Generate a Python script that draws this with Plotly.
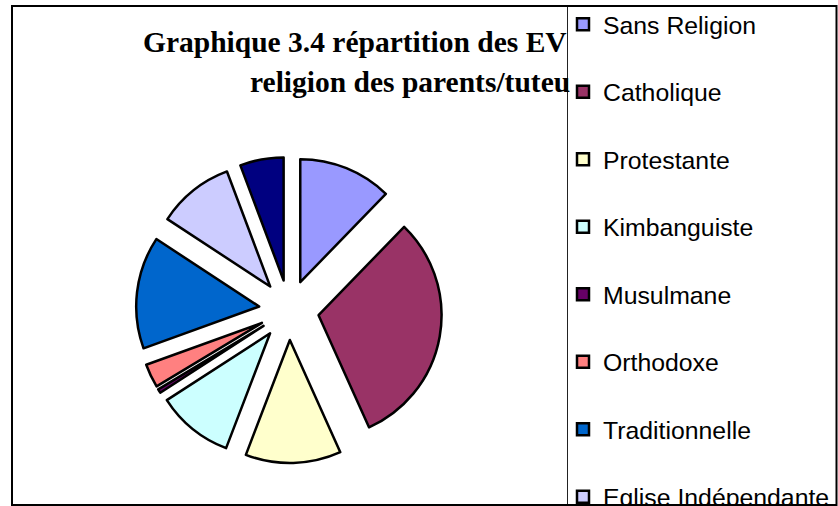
import plotly.graph_objects as go

# Data (% of total)
religions = ["Sans Religion", "Catholique", "Protestante", "Kimbanguiste", "Musulmane",
             "Orthodoxe", "Traditionnelle", "Eglise Indépendante", "Autres"]
shares = [12.2, 30.9, 12.5, 10.0, 0.5, 3.1, 14.7, 10.0, 5.7]
colors = ["#9999FF", "#993366", "#FFFFCC", "#CCFFFF", "#660066",
          "#FF8080", "#0066CC", "#CCCCFF", "#000080"]

W, H = 838, 506

# legend entries get an empty second line so the items are spread like the original
legend_labels = [r + "<br> " for r in religions]

fig = go.Figure(go.Pie(
    labels=legend_labels,
    values=shares,
    sort=False,
    direction="clockwise",
    rotation=0,
    pull=0.244,
    textinfo="none",
    hovertemplate="%{label}: %{value}%<extra></extra>",
    marker=dict(colors=colors, line=dict(color="black", width=2.5)),
    domain=dict(x=[136 / W, 442 / W], y=[43 / H, 349 / H]),
))

title_font = dict(family="Liberation Serif, Times New Roman, serif", size=29.5, color="black")

fig.update_layout(
    width=W, height=H,
    margin=dict(l=0, r=0, t=0, b=0, autoexpand=False),
    paper_bgcolor="white",
    showlegend=True,
    legend=dict(
        x=563 / W, xanchor="left",
        y=(H - 1.7) / H, yanchor="top",
        bgcolor="rgba(0,0,0,0)", borderwidth=0,
        valign="top", maxheight=1000,
        font=dict(family="Liberation Sans, Arial, sans-serif", size=24.8, color="black"),
    ),
    annotations=[
        dict(text="<b>Graphique 3.4 répartition des EV</b>", xref="paper", yref="paper",
             x=569 / W, y=(H - 42.2) / H, xanchor="right", yanchor="middle",
             showarrow=False, font=title_font),
        dict(text="<b>religion des parents/tuteu</b>", xref="paper", yref="paper",
             x=572 / W, y=(H - 81.7) / H, xanchor="right", yanchor="middle",
             showarrow=False, font=title_font),
    ],
    shapes=[
        # legend box left edge
        dict(type="line", xref="paper", yref="paper", x0=567.5 / W, x1=567.5 / W,
             y0=1 / H, y1=(H - 6) / H, line=dict(color="#222222", width=1), layer="above"),
        # chart area border
        dict(type="rect", xref="paper", yref="paper", x0=12 / W, x1=836.5 / W,
             y0=1 / H, y1=(H - 6) / H, line=dict(color="black", width=2), layer="above"),
    ],
)

# drop the default page margin so the figure sits at the window's corner
fig.write_html("out.html", config={"displayModeBar": False},
               post_script="document.body.style.margin='0px';")
